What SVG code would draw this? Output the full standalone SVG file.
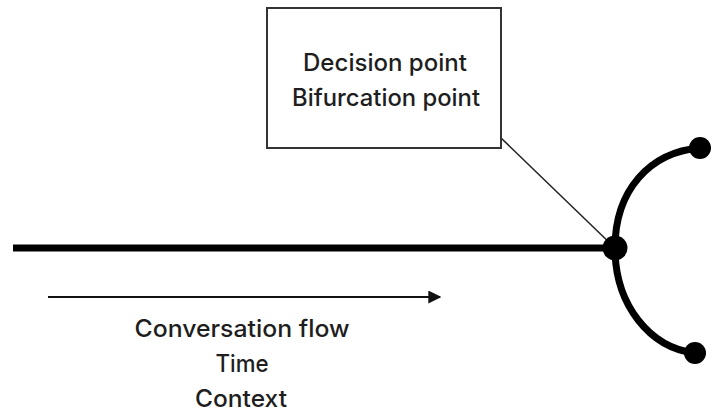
<svg xmlns="http://www.w3.org/2000/svg" width="713" height="416" viewBox="0 0 713 416">
  <style>
    .label { font-family: Inter, "Liberation Sans", sans-serif; font-size: 24px; font-weight: 500; fill: #1e1e1e; text-anchor: middle; }
    .thick { fill: none; stroke: #000; stroke-width: 7; stroke-linecap: butt; }
    .thin { fill: none; stroke: #222; stroke-width: 1.5; }
    .dot { fill: #000; }
  </style>
  <defs>
    <marker id="arrowhead" viewBox="0 0 10 10" refX="9" refY="5" markerWidth="6.5" markerHeight="6.5" orient="auto" markerUnits="strokeWidth">
      <path d="M0,0 L10,5 L0,10 z" fill="#111"/>
    </marker>
  </defs>
  <rect width="713" height="416" fill="#fff"/>

  <g id="connectors">
    <!-- main timeline -->
    <line class="thick" x1="13" y1="248" x2="615" y2="248"/>
    <!-- branches after the decision point -->
    <path class="thick" d="M615,248 C615,190 650,152 700,148"/>
    <path class="thick" d="M615,248 C615,305 650,348 695,353"/>
    <!-- callout leader -->
    <line class="thin" x1="500" y1="137" x2="615" y2="248"/>
    <!-- flow direction arrow -->
    <line x1="48" y1="297" x2="440" y2="297" stroke="#111" stroke-width="2" marker-end="url(#arrowhead)"/>
  </g>

  <g id="callout">
    <rect x="267" y="8" width="234" height="140" fill="#fff" stroke="#333" stroke-width="2"/>
    <text class="label" x="385" y="71" textLength="164" lengthAdjust="spacingAndGlyphs">Decision point</text>
    <text class="label" x="386" y="106" textLength="188" lengthAdjust="spacingAndGlyphs">Bifurcation point</text>
  </g>

  <g id="decision-point">
    <circle class="dot" cx="615" cy="248" r="12.5"/>
  </g>
  <g id="branch-top">
    <circle class="dot" cx="700" cy="148" r="11"/>
  </g>
  <g id="branch-bottom">
    <circle class="dot" cx="695" cy="353" r="11"/>
  </g>

  <g id="flow-label">
    <text class="label" x="242" y="337" textLength="215" lengthAdjust="spacingAndGlyphs">Conversation flow</text>
    <text class="label" x="242" y="372" textLength="53" lengthAdjust="spacingAndGlyphs">Time</text>
    <text class="label" x="241" y="407" textLength="92" lengthAdjust="spacingAndGlyphs">Context</text>
  </g>
</svg>
